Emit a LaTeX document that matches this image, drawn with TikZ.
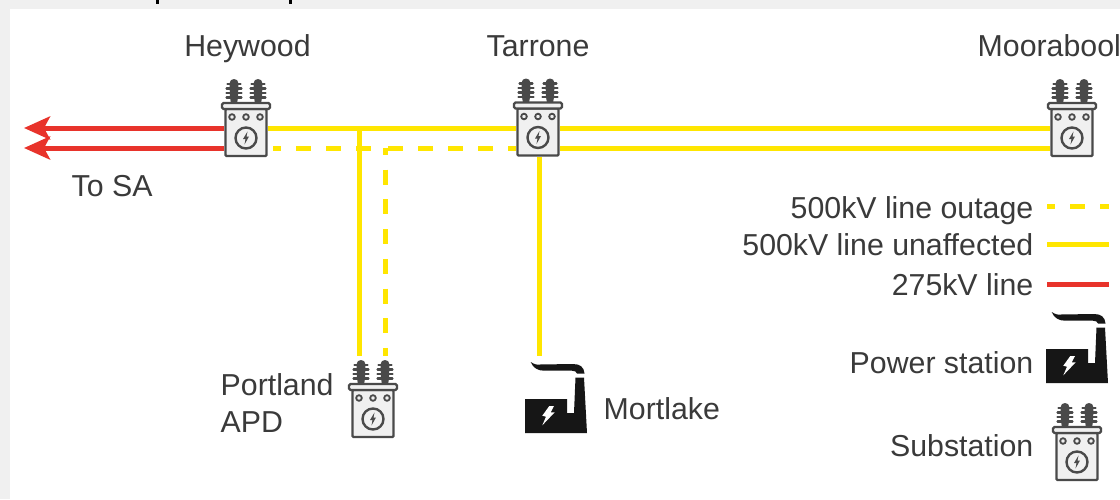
\documentclass[tikz,border=0pt]{standalone}
\usepackage{fontspec}
\setmainfont{Liberation Sans}
\usetikzlibrary{arrows.meta}
\definecolor{lnyellow}{HTML}{FFE600}
\definecolor{lnred}{HTML}{E8332B}
\definecolor{txt}{HTML}{3A3A3A}
\definecolor{icon}{HTML}{4A4A4A}
\definecolor{pagegray}{HTML}{F0F0F0}
\definecolor{iconblack}{HTML}{161616}
\tikzset{
  lbl/.style={font=\fontsize{30.3}{36}\selectfont, text=txt, inner sep=0pt, anchor=base},
  lblw/.style={lbl, anchor=base west},
  lble/.style={lbl, anchor=base east},
  subbox/.style={draw=icon, fill=pagegray, line width=2.4pt, minimum width=41pt, minimum height=47pt, inner sep=0pt, rounded corners=1pt},
  psbox/.style={minimum width=62pt, minimum height=78pt, inner sep=0pt},
  solidline/.style={draw=lnyellow, line width=5pt},
  dashline/.style={draw=lnyellow, line width=5pt, dash pattern=on 15pt off 15pt},
  vdashline/.style={draw=lnyellow, line width=5pt, dash pattern=on 15pt off 14.7pt},
  redline/.style={draw=lnred, line width=5pt},
  redarrow/.style={redline, -{Stealth[length=26pt,width=23pt,inset=6pt]}},
  insul/.pic={
    \fill[icon] (-4,-6) -- (4,-6) -- (3,0) -- (-3,0) -- cycle;
    \fill[icon] (-4.5,-20) .. controls (-4.5,-26) and (4.5,-26) .. (4.5,-20) -- (4,-6) -- (-4,-6) -- cycle;
    \foreach \yy/\hw in {-19.5/6.5,-15/7.5,-10.5/7.5,-6/7.5}
      \draw[icon, line width=2.2pt, line cap=round] (-\hw,\yy) -- (\hw,\yy);
  },
  subdetail/.pic={
    \path (-12,-29) pic {insul};
    \path (12,-29) pic {insul};
    \draw[icon, fill=pagegray, line width=2.2pt, rounded corners=1.5pt] (-24,-29.5) rectangle (24,-23.5);
    \foreach \xx in {-14,0,14}
      \draw[icon, line width=1.8pt] (\xx,-15.5) circle[radius=2.8];
    \draw[icon, line width=2.4pt] (0,5.5) circle[radius=10.5];
    \fill[icon] (1.5,-1) -- (-3,6.5) -- (-0.5,6.5) -- (-1.5,12) -- (3,4) -- (0.5,4) -- cycle;
  },
  stationdetail/.pic={
    \fill[iconblack] (-31,-17) -- (11,-17) -- (11,-3) -- (18,-3) -- (19.5,-38.5) -- (28,-38.5) -- (31,17) -- (-31,17) -- cycle;
    \fill[iconblack] (-25.3,-54) .. controls (-22,-52) and (-20,-51) .. (-16,-51.5)
      -- (17,-52) .. controls (24,-52) and (28,-49) .. (28.5,-42.5) -- (21,-42.5)
      .. controls (20,-44.5) and (19,-45.3) .. (16,-45.3) -- (-12,-45.3)
      .. controls (-18,-45.3) and (-23,-48) .. (-25.3,-54) -- cycle;
    \fill[white] (-6.7,-10) -- (-2,-10) -- (-5.3,-3.7) -- (-1.3,-3.7) -- (-13.7,9.3) -- (-10,0.7) -- (-13.7,-0.3) -- cycle;
  },
}
\begin{document}
\begin{tikzpicture}[x=1pt,y=-1pt]
\useasboundingbox (0,0) rectangle (1120,499);
\fill[pagegray] (0,0) rectangle (1120,499);
\fill[white] (10,9) rectangle (1120,499);
\fill[black] (156,0) rectangle (158.5,4);
\fill[black] (289,0) rectangle (291.5,4);

% connection points
\coordinate (arrA) at (24,128);
\coordinate (arrB) at (24,148);
\coordinate (jn) at (359,128);
\coordinate (cdl) at (273,148);
\coordinate (cdm) at (373,148);
\coordinate (cdc) at (385,148);
\coordinate (cdr) at (388,148);
\coordinate (cde) at (385,356);
\coordinate (jne) at (359,356);
\coordinate (legL1) at (1047,206);
\coordinate (legR1) at (1109,206);
\coordinate (legL2) at (1047,244);
\coordinate (legR2) at (1109,244);
\coordinate (legL3) at (1047,284);
\coordinate (legR3) at (1109,284);

% nodes
\node[subbox] (hey) at (246,132.5) {};
\node[subbox] (tar) at (538,132) {};
\node[subbox] (moo) at (1072,132.5) {};
\node[subbox] (por) at (373,413.5) {};
\node[subbox] (lsub) at (1077,456.5) {};
\node[psbox] (mort) at (556,395) {};
\node[psbox] (lps) at (1077,345) {};

% connectors
\draw[redarrow] (hey.west |- arrA) -- (arrA);
\draw[redarrow] (hey.west |- arrB) -- (arrB);
\draw[solidline] (hey.east |- jn) -- (tar.west |- jn);
\draw[solidline] (tar.east |- jn) -- (moo.west |- jn);
\draw[solidline] (tar.east |- cdc) -- (moo.west |- cdc);
\draw[solidline] (jn) -- (jne);
\draw[solidline] (tar.south -| 539,0) -- (mort.north -| 539,0);
\draw[dashline, dash phase=7pt] (cdl) -- (cdm);
\draw[dashline] (cdr) -- (tar.west |- cdr);
\draw[vdashline, dash phase=8pt] (cdc) -- (cde);

% icons
\path (hey) pic {subdetail};
\path (tar) pic {subdetail};
\path (moo) pic {subdetail};
\path (por) pic {subdetail};
\path (lsub) pic {subdetail};
\path (556,416) pic {stationdetail};
\path (1077,366) pic {stationdetail};

% labels
\node[lbl] (lhey) at (247.5,56) {Heywood};
\node[lbl] (ltar) at (538,56) {Tarrone};
\node[lblw] (lmoo) at (977.5,56) {Moorabool};
\node[lblw] (ltosa) at (71.5,196) {To SA};
\node[lblw] (lpor1) at (220.5,395) {Portland};
\node[lblw] (lpor2) at (220.5,432) {APD};
\node[lblw] (lmort) at (603.5,419) {Mortlake};
\node[lble] (k1) at (1033.5,218) {500kV line outage};
\node[lble] (k2) at (1033.5,255) {500kV line unaffected};
\node[lble] (k3) at (1033.5,295) {275kV line};
\node[lble] (k4) at (1033.5,373) {Power station};
\node[lble] (k5) at (1033.5,456) {Substation};

% legend lines
\draw[dashline, dash phase=7pt] (legL1) -- (legR1);
\draw[solidline] (legL2) -- (legR2);
\draw[redline] (legL3) -- (legR3);
\end{tikzpicture}
\end{document}
